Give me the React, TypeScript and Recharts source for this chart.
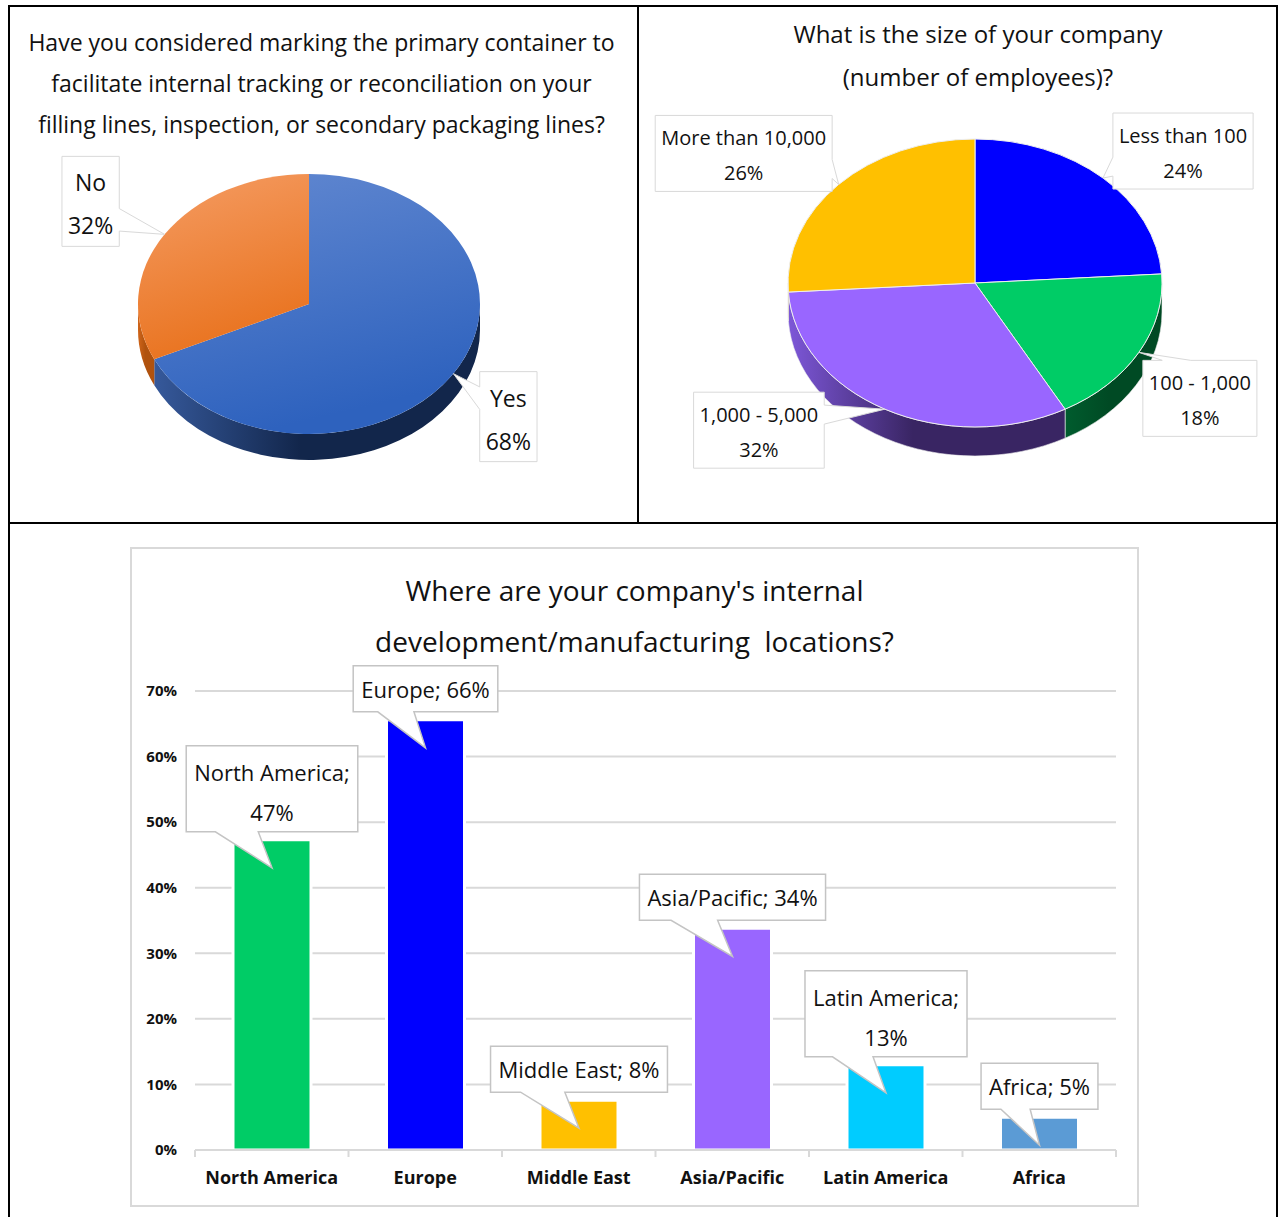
import React from "react";
import { PieChart, Pie, Cell, BarChart, Bar, XAxis, YAxis, CartesianGrid, LabelList } from "recharts";

// --- data ---
const markingAnswers = ["Yes", "No"];
const markingShares = [68, 32];

const sizeClasses = ["Less than 100", "100 - 1,000", "1,000 - 5,000", "More than 10,000"];
const sizeShares = [24, 18, 32, 26];

const locations = ["North America", "Europe", "Middle East", "Asia/Pacific", "Latin America", "Africa"];
const locationShares = [47.3, 65.6, 7.6, 33.8, 13, 5];
const locationTicks = [0, 10, 20, 30, 40, 50, 60, 70];

const FONT = "'Open Sans', 'Noto Sans', sans-serif";
const RAD = Math.PI / 180;

// [top from, top to, side from, side to]
const markingColors: Record<string, string[]> = {
  Yes: ["#6389D1", "#2E62BE", "#36599B", "#12264B"],
  No: ["#F59D65", "#E9731F", "#D0651A", "#B0520E"],
};
const sizeColors: Record<string, string[]> = {
  "Less than 100": ["#0000FF", "#0000FF", "#0000A8", "#00007A"],
  "100 - 1,000": ["#00CC66", "#00CC66", "#005C2E", "#004A24"],
  "1,000 - 5,000": ["#9966FF", "#9966FF", "#7D57D8", "#392563"],
  "More than 10,000": ["#FFC000", "#FFC000", "#C79600", "#9E7700"],
};
const locationColors = ["#00CC66", "#0000FF", "#FFC000", "#9966FF", "#00CCFF", "#5B9BD5"];

// callout box centre, relative to the slice's rim point
const markingBoxes: Record<string, number[]> = { Yes: [55, 43], No: [-74, -33] };
const sizeBoxes: Record<string, number[]> = {
  "Less than 100": [80, -27],
  "100 - 1,000": [61, 46],
  "1,000 - 5,000": [-126, 21],
  "More than 10,000": [-95, -31],
};

const markingData = markingAnswers.map((name, i) => ({ name, value: markingShares[i] }));
const sizeData = sizeClasses.map((name, i) => ({ name, value: sizeShares[i] }));
const locationData = locations.map((name, i) => ({ name, value: locationShares[i] }));

let measureCtx: CanvasRenderingContext2D | null = null;
function textWidth(s: string, size: number, weight = 400) {
  if (!measureCtx) measureCtx = document.createElement("canvas").getContext("2d");
  if (!measureCtx) return s.length * size * 0.55;
  measureCtx.font = `${weight} ${size}px "Open Sans"`;
  return measureCtx.measureText(s).width;
}

// box with a wedge pointing at (tx, ty)
function calloutPath(x: number, y: number, w: number, h: number, tx: number, ty: number) {
  const r = x + w, b = y + h;
  const dx = (tx - (x + w / 2)) / (w / 2);
  const dy = (ty - (y + h / 2)) / (h / 2);
  const horiz = Math.abs(dx) > Math.abs(dy);
  const start = horiz ? y : x;
  const len = horiz ? h : w;
  const far = horiz ? ty > y + h / 2 : tx > x + w / 2;
  const b1 = start + len * (far ? 0.58 : 0.17);
  const b2 = start + len * (far ? 0.83 : 0.42);
  const tip = `L${tx},${ty}`;
  let d = `M${x},${y}`;
  if (!horiz && dy < 0) d += ` L${b1},${y} ${tip} L${b2},${y}`;
  d += ` L${r},${y}`;
  if (horiz && dx > 0) d += ` L${r},${b1} ${tip} L${r},${b2}`;
  d += ` L${r},${b}`;
  if (!horiz && dy > 0) d += ` L${b2},${b} ${tip} L${b1},${b}`;
  d += ` L${x},${b}`;
  if (horiz && dx < 0) d += ` L${x},${b2} ${tip} L${x},${b1}`;
  return d + " Z";
}

// tilted (elliptical) slice with a visible side wall
function ellipseSlice(id: string, tilt: number, depth: number, colors: Record<string, string[]>, stroke: string) {
  return (props: any) => {
    const { cx, cy, outerRadius, startAngle, endAngle } = props;
    const name = props.name ?? props.payload?.name;
    const [t0, t1, s0, s1] = colors[name];
    const rx = outerRadius;
    const ry = outerRadius * tilt;
    const pt = (a: number, off = 0) => `${cx + rx * Math.cos(a * RAD)},${cy - ry * Math.sin(a * RAD) + off}`;
    const hi = Math.max(startAngle, endAngle);
    const lo = Math.min(startAngle, endAngle);
    const large = hi - lo > 180 ? 1 : 0;
    const key = `${id}-${String(name).replace(/[^a-z0-9]/gi, "")}`;
    const top = `M${cx},${cy} L${pt(hi)} A${rx},${ry} 0 ${large} 1 ${pt(lo)} Z`;
    const a2 = Math.min(hi, 0);
    const a1 = Math.max(lo, -180);
    const side =
      a2 > a1
        ? `M${pt(a2)} A${rx},${ry} 0 0 1 ${pt(a1)} L${pt(a1, depth)} A${rx},${ry} 0 0 0 ${pt(a2, depth)} Z`
        : null;
    return (
      <g>
        <defs>
          <linearGradient id={`${key}-t`} x1="0" y1="0" x2="0.3" y2="1">
            <stop offset="0%" stopColor={t0} />
            <stop offset="100%" stopColor={t1} />
          </linearGradient>
          <linearGradient id={`${key}-s`} x1="0" y1="0" x2="1" y2="0">
            <stop offset="0%" stopColor={s0} />
            <stop offset="45%" stopColor={s1} />
            <stop offset="100%" stopColor={s1} />
          </linearGradient>
        </defs>
        {side && <path d={side} fill={`url(#${key}-s)`} stroke={stroke} strokeWidth={0.6} />}
        <path d={top} fill={`url(#${key}-t)`} stroke={stroke} strokeWidth={1} />
      </g>
    );
  };
}

function sliceCallout(tilt: number, boxes: Record<string, number[]>, fontSize: number, boxH: number, firstLine: number, lineGap: number) {
  return (props: any) => {
    const { cx, cy, outerRadius, midAngle, percent } = props;
    const name = props.name ?? props.payload?.name;
    const rx = outerRadius;
    const ry = outerRadius * tilt;
    const tx = cx + rx * Math.cos(midAngle * RAD);
    const ty = cy - ry * Math.sin(midAngle * RAD);
    const lines = [name, `${Math.round(percent * 100)}%`];
    const w = Math.max(...lines.map((l) => textWidth(l, fontSize))) + 12;
    const [ox, oy] = boxes[name];
    const bx = tx + ox - w / 2;
    const by = ty + oy - boxH / 2;
    return (
      <g>
        <path d={calloutPath(bx, by, w, boxH, tx, ty)} fill="#fff" stroke="#D9D9D9" strokeWidth={1} />
        {lines.map((l, i) => (
          <text
            key={i}
            x={bx + w / 2}
            y={by + firstLine + i * lineGap}
            textAnchor="middle"
            dominantBaseline="central"
            fontFamily={FONT}
            fontSize={fontSize}
            fill="#111"
          >
            {l}
          </text>
        ))}
      </g>
    );
  };
}

const LocationCallout = (props: any) => {
  const vb = props.viewBox ?? props;
  const x = vb.x ?? props.x;
  const y = vb.y ?? props.y;
  const width = vb.width ?? props.width;
  const name = locations[props.index];
  const pct = `${Math.round(Number(props.value))}%`;
  const full = `${name}; ${pct}`;
  const lines = full.length > 17 ? [`${name};`, pct] : [full];
  const fs = 22;
  const w = Math.max(...lines.map((l) => textWidth(l, fs))) + 16;
  const h = lines.length === 1 ? 46 : 86;
  const tx = x + width / 2;
  const ty = y + 28;
  const bx = tx - w / 2;
  const by = y - 8 - h;
  return (
    <g>
      <path d={calloutPath(bx, by, w, h, tx, ty)} fill="#fff" stroke="#C4C4C4" strokeWidth={1.5} />
      {lines.map((l, i) => (
        <text
          key={i}
          x={tx}
          y={lines.length === 1 ? by + h / 2 : by + 26 + i * 40}
          textAnchor="middle"
          dominantBaseline="central"
          fontFamily={FONT}
          fontSize={fs}
          fill="#111"
        >
          {l}
        </text>
      ))}
    </g>
  );
};

const LocationTick = (props: any) => {
  const { x, y, payload, index } = props;
  const half = payload?.offset || 76.75;
  const last = index === locations.length - 1;
  return (
    <g>
      <line x1={x - half} x2={x - half} y1={y} y2={y + 7} stroke="#D9D9D9" strokeWidth={2} />
      {last && <line x1={x + half} x2={x + half} y1={y} y2={y + 7} stroke="#D9D9D9" strokeWidth={2} />}
      <text x={x} y={y + 28} dy="0.35em" textAnchor="middle" fontFamily={FONT} fontSize={18} fontWeight={700} fill="#111">
        {payload.value}
      </text>
    </g>
  );
};

const titleStyle: React.CSSProperties = {
  position: "absolute",
  textAlign: "center",
  fontFamily: FONT,
  color: "#111",
  whiteSpace: "pre",
};

const line = (left: number, top: number, width: number, height: number) => (
  <div style={{ position: "absolute", left, top, width, height, background: "#000" }} />
);

const noMargin = { top: 0, right: 0, bottom: 0, left: 0 };

export default function App() {
  return (
    <div style={{ position: "absolute", left: 0, top: 0, width: 1279, height: 1217, background: "#fff", overflow: "hidden" }}>
      {/* table rules */}
      {line(8, 5, 1270, 2)}
      {line(8, 5, 2, 1212)}
      {line(637, 5, 2, 518)}
      {line(1276, 5, 2, 1212)}
      {line(8, 522, 1270, 2)}

      {/* panel 1 */}
      <div style={{ position: "absolute", left: 10, top: 7, width: 627, height: 514 }}>
        <PieChart width={627} height={514} margin={noMargin}>
          <Pie
            data={markingData}
            dataKey="value"
            nameKey="name"
            cx={299}
            cy={297}
            outerRadius={171}
            startAngle={90}
            endAngle={-270}
            stroke="none"
            isAnimationActive={false}
            labelLine={false}
            shape={ellipseSlice("mk", 0.76, 26, markingColors, "none")}
            activeShape={ellipseSlice("mk", 0.76, 26, markingColors, "none")}
            inactiveShape={ellipseSlice("mk", 0.76, 26, markingColors, "none")}
            label={sliceCallout(0.76, markingBoxes, 23, 90, 26, 43)}
          >
            {markingData.map((d) => (
              <Cell key={d.name} fill={markingColors[d.name][0]} />
            ))}
          </Pie>
        </PieChart>
        <div style={{ ...titleStyle, left: -2, width: 627, top: 15, fontSize: 23, lineHeight: "41px" }}>
          {"Have you considered marking the primary container to\nfacilitate internal tracking or reconciliation on your\nfilling lines, inspection, or secondary packaging lines?"}
        </div>
      </div>

      {/* panel 2 */}
      <div style={{ position: "absolute", left: 640, top: 7, width: 636, height: 514 }}>
        <PieChart width={636} height={514} margin={noMargin}>
          <Pie
            data={sizeData}
            dataKey="value"
            nameKey="name"
            cx={335}
            cy={276}
            outerRadius={187}
            startAngle={90}
            endAngle={-270}
            stroke="#EEE"
            isAnimationActive={false}
            labelLine={false}
            shape={ellipseSlice("sz", 0.77, 29, sizeColors, "#EEEEEE")}
            activeShape={ellipseSlice("sz", 0.77, 29, sizeColors, "#EEEEEE")}
            inactiveShape={ellipseSlice("sz", 0.77, 29, sizeColors, "#EEEEEE")}
            label={sliceCallout(0.77, sizeBoxes, 20, 76, 22, 35)}
          >
            {sizeData.map((d) => (
              <Cell key={d.name} fill={sizeColors[d.name][0]} />
            ))}
          </Pie>
        </PieChart>
        <div style={{ ...titleStyle, left: 20, width: 636, top: 6, fontSize: 24, lineHeight: "42.5px" }}>
          {"What is the size of your company\n(number of employees)?"}
        </div>
      </div>

      {/* panel 3 */}
      <div
        style={{
          position: "absolute",
          left: 130,
          top: 547,
          width: 1009,
          height: 660,
          border: "2px solid #D9D9D9",
          boxSizing: "border-box",
        }}
      />
      <div style={{ position: "absolute", left: 131, top: 548, width: 1007, height: 657 }}>
        <BarChart
          width={1007}
          height={657}
          data={locationData}
          margin={{ top: 143, right: 22, left: 0, bottom: 0 }}
          barCategoryGap="26%"
        >
          <CartesianGrid vertical={false} stroke="#D9D9D9" strokeWidth={2} />
          <YAxis
            type="number"
            domain={[0, 70]}
            ticks={locationTicks}
            width={64}
            axisLine={false}
            tickLine={false}
            tickSize={0}
            tickMargin={18}
            tickFormatter={(v: number) => `${v}%`}
            tick={{ fill: "#111", fontSize: 15, fontWeight: 700, fontFamily: FONT }}
          />
          <Bar dataKey="value" barSize={78} stroke="#fff" strokeWidth={3} isAnimationActive={false}>
            {locationData.map((d, i) => (
              <Cell key={d.name} fill={locationColors[i]} />
            ))}
            <LabelList dataKey="value" content={LocationCallout} />
          </Bar>
          <XAxis
            dataKey="name"
            height={55}
            axisLine={{ stroke: "#D9D9D9", strokeWidth: 2 }}
            tickLine={false}
            tickSize={0}
            tickMargin={0}
            interval={0}
            tick={<LocationTick />}
          />
        </BarChart>
        <div style={{ ...titleStyle, left: 0, width: 1007, top: 17, fontSize: 28, lineHeight: "51px" }}>
          {"Where are your company's internal\ndevelopment/manufacturing  locations?"}
        </div>
      </div>
    </div>
  );
}
